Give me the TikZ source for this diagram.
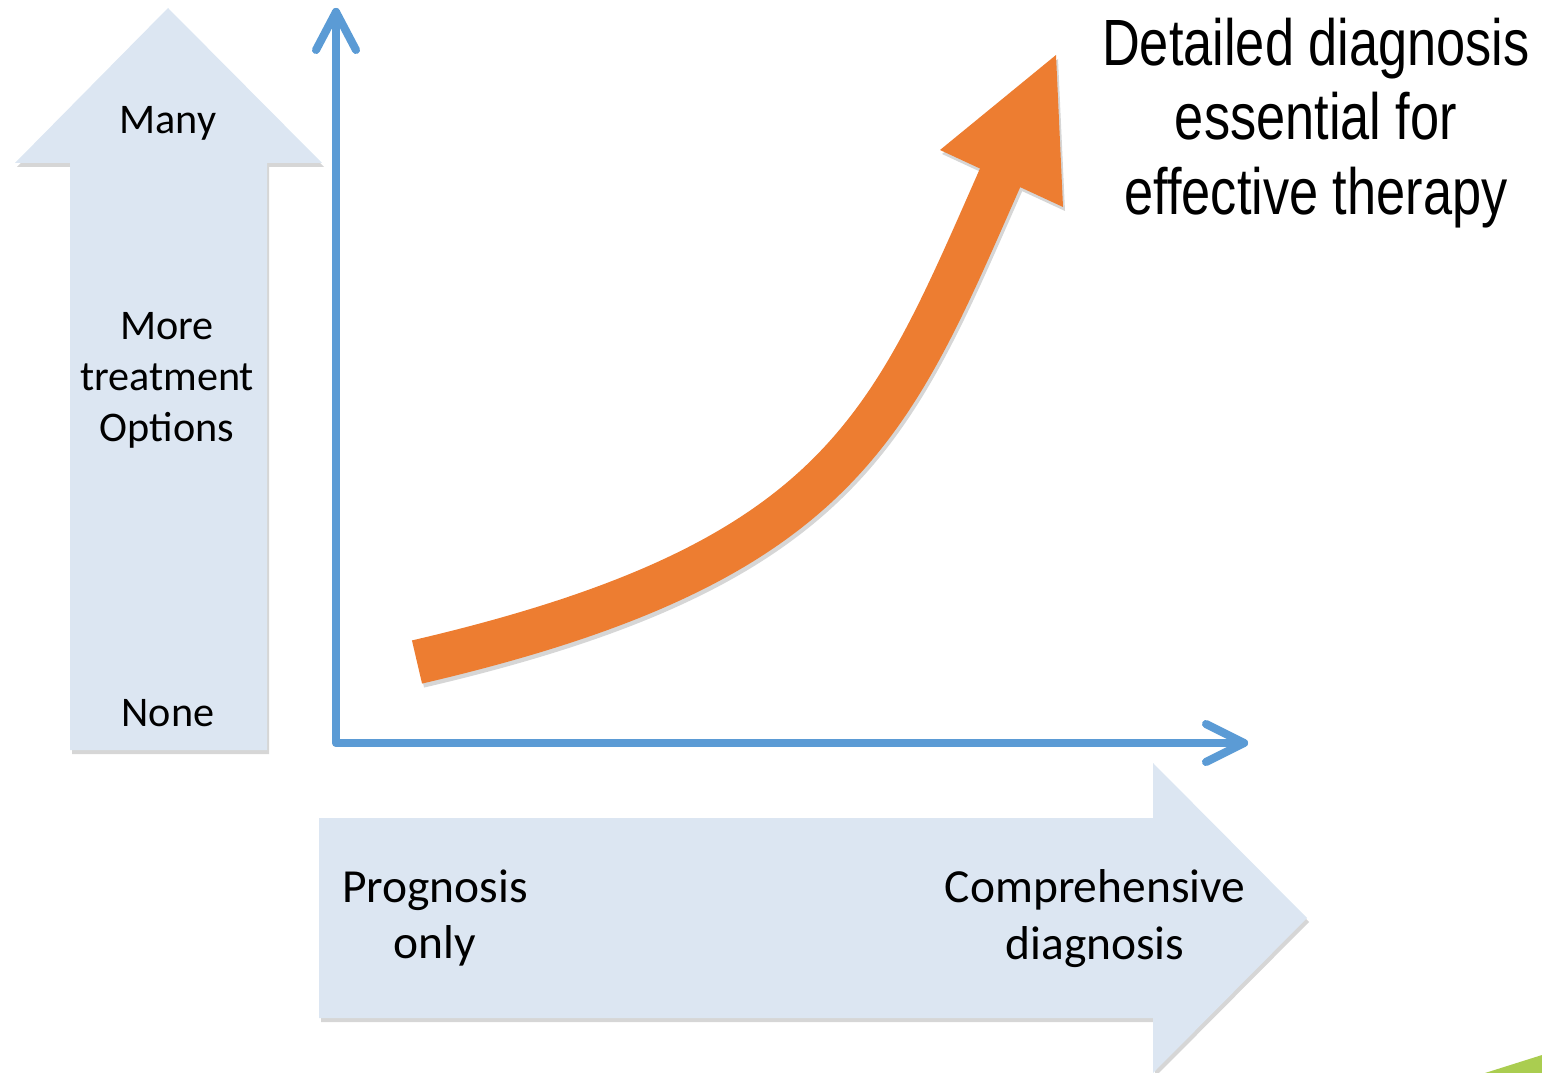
\documentclass[tikz,border=0pt]{standalone}
\usepackage{fontspec}
\setmainfont{Carlito}
\newfontfamily\narrowfont[FakeStretch=0.8]{Liberation Sans}
\usetikzlibrary{calc}
\definecolor{paleblue}{RGB}{220,230,242}
\definecolor{axisblue}{RGB}{91,155,213}
\definecolor{curveorange}{RGB}{237,125,49}
\definecolor{cornergreen}{RGB}{170,205,80}
\tikzset{
  scale arrow/.style={fill=paleblue},
  drop shadow/.style={fill=black!16, shift={(2,4)}},
  axis/.style={line width=2.3pt, color=axisblue, line cap=round, line join=round},
  label/.style={font=\fontsize{12}{14.5}\selectfont, align=center, inner sep=0pt},
  big label/.style={font=\fontsize{13.5}{16.2}\selectfont, align=center, inner sep=0pt}
}

\begin{document}
\begin{tikzpicture}[x=0.01cm, y=-0.01cm]
		%%%%% START %%%%%
		\useasboundingbox (0, 0) rectangle (1542, 1073);
		
		% treatment options arrow
		\fill[drop shadow] (70, 750) -- (70, 163) -- (15, 163) -- (168, 8) -- (322, 163) -- (267, 163) -- (267, 750) -- cycle;
		\fill[scale arrow] (70, 750) -- (70, 163) -- (15, 163) -- (168, 8) -- (322, 163) -- (267, 163) -- (267, 750) -- cycle;
		
		% diagnosis arrow
		\fill[drop shadow] (319, 818) -- (1153, 818) -- (1153, 763) -- (1307, 918) -- (1153, 1073) -- (1153, 1018) -- (319, 1018) -- cycle;
		\fill[scale arrow] (319, 818) -- (1153, 818) -- (1153, 763) -- (1307, 918) -- (1153, 1073) -- (1153, 1018) -- (319, 1018) -- cycle;
		
		\node[label] (many) at (168, 123) {Many};
		\node[label] (more) at (167, 380) {More\\treatment\\Options};
		\node[label] (none) at (168, 713) {None};
		\node[big label] (prog) at (435, 918) {Prognosis\\only};
		\node[big label] (comp) at (1095, 919) {Comprehensive\\diagnosis};
		
		% axes
		\coordinate (ytop) at (336, 12);
		\coordinate (origin) at (336, 743);
		\coordinate (xend) at (1244, 743);
		\draw[axis, color=black!16, shift={(2,4)}] (ytop) -- (origin) -- (xend);
		\draw[axis] (ytop) -- (origin) -- (xend);
		\draw[axis] ($(ytop)+(-20, 38)$) -- (ytop) -- ($(ytop)+(20, 38)$);
		\draw[axis] ($(xend)+(-38, -19)$) -- (xend) -- ($(xend)+(-38, 19)$);
		
		% rising curve
		\draw[line width=12.6pt, color=black!16, shift={(2,4)}] (417, 662) .. controls (847, 562) and (891, 424) .. (1004, 169);
		\fill[black!16, shift={(2,4)}] (940, 150) -- (1056, 55) -- (1063, 207) -- cycle;
		\draw[line width=12.6pt, color=curveorange] (417, 662) .. controls (847, 562) and (891, 424) .. (1004, 169);
		\fill[curveorange] (940, 150) -- (1056, 55) -- (1063, 207) -- cycle;
		
		\node[font=\narrowfont\fontsize{18.6}{21.3}\selectfont, align=center, inner sep=0pt] (title) at (1316, 123) {Detailed diagnosis\\essential for\\effective therapy};
		
		% corner
		\fill[cornergreen] (1485, 1073) -- (1542, 1055) -- (1542, 1073) -- cycle;
		%%%%% END %%%%%
\end{tikzpicture}
\end{document}
